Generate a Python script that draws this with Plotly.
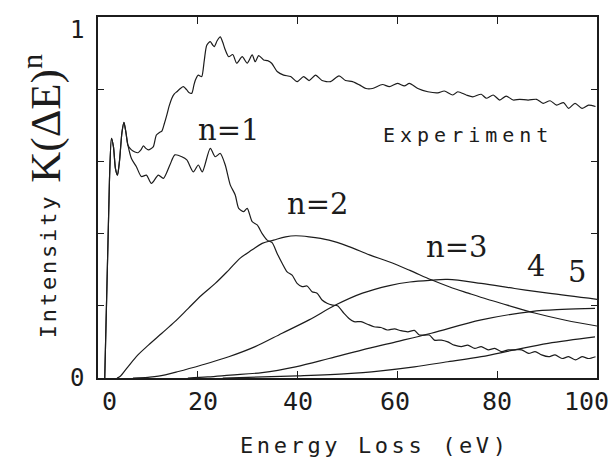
import plotly.graph_objects as go

# ---------------- data ----------------
exp_x = [1.35, 2.3, 2.7, 3.1, 3.5, 3.9, 4.3, 4.8, 5.2, 5.6, 6.0,
         6.7, 7.4, 8.0, 8.6, 9.1, 9.6, 10.1, 10.6, 11.1, 11.7, 12.3, 12.8,
         13.3, 13.8, 14.3, 14.8, 15.3, 15.8, 16.5, 17.1, 17.8, 18.3, 18.8,
         19.2, 19.5, 20.1, 20.5, 20.8, 21.3, 21.8, 22.5, 23.0, 23.3, 23.9,
         24.5, 25.0, 25.4, 26.2, 27.0, 27.8, 28.9, 29.9, 30.9, 31.5, 32.2,
         33.2, 34.0, 34.8, 35.9, 37.2, 38.6, 39.9, 41.2, 42.3, 43.6, 44.9,
         46.6, 48.3, 49.6, 51.0, 52.4, 53.7, 55.0, 57.0, 58.4, 60.0, 61.4,
         62.4, 64.1, 66.1, 68.1, 69.4, 71.1, 72.1, 73.8, 75.1, 76.8, 77.8,
         79.2, 80.5, 81.8, 83.2, 84.5, 86.2, 87.9, 89.2, 90.6, 91.9, 93.3,
         94.3, 95.6, 97.0, 98.3, 99.7]
exp_y = [0.0, 0.55, 0.664, 0.64, 0.58, 0.562, 0.60, 0.68, 0.708, 0.68, 0.645,
         0.632, 0.626, 0.624, 0.632, 0.643, 0.636, 0.632, 0.635, 0.641, 0.673, 0.680, 0.684,
         0.705, 0.729, 0.755, 0.775, 0.787, 0.793, 0.802, 0.807, 0.798, 0.790, 0.789,
         0.810, 0.825, 0.839, 0.836, 0.835, 0.880, 0.922, 0.932, 0.922, 0.918, 0.935,
         0.945, 0.930, 0.913, 0.890, 0.896, 0.872, 0.890, 0.872, 0.895, 0.876, 0.893,
         0.881, 0.879, 0.872, 0.849, 0.839, 0.835, 0.821, 0.835, 0.824, 0.839, 0.824,
         0.821, 0.837, 0.824, 0.821, 0.812, 0.802, 0.802, 0.813, 0.807, 0.816, 0.809,
         0.816, 0.802, 0.793, 0.790, 0.795, 0.784, 0.793, 0.784, 0.779, 0.786, 0.775,
         0.784, 0.770, 0.781, 0.770, 0.772, 0.770, 0.772, 0.761, 0.768, 0.756, 0.763,
         0.747, 0.761, 0.747, 0.756, 0.752]

n1_x = [1.35, 2.3, 2.7, 3.1, 3.5, 3.9, 4.3, 4.8, 5.2, 5.6, 6.0,
        6.7, 7.7, 8.7, 9.7, 10.7, 12.1, 13.1, 14.4, 15.4, 16.8, 17.8, 19.1,
        20.1, 20.9, 22.5, 23.5, 24.5, 25.5, 26.5, 27.5, 28.2, 29.2, 29.9,
        30.9, 31.9, 32.9, 33.9, 34.9, 35.9, 36.9, 37.9, 38.9, 39.9, 40.9,
        41.9, 42.9, 43.9, 44.9, 45.9, 47.0, 48.0, 49.3, 50.3, 51.3, 52.7,
        54.0, 55.3, 56.7, 58.0, 59.4, 60.7, 62.1, 63.4, 64.4, 66.4, 67.4,
        68.8, 70.1, 71.4, 72.8, 74.1, 75.5, 76.8, 78.2, 79.5, 80.9, 82.2,
        83.5, 84.9, 86.3, 87.6, 88.9, 90.3, 91.6, 93.0, 94.3, 95.7, 97.0,
        98.3, 99.7]
n1_y = [0.0, 0.55, 0.664, 0.64, 0.58, 0.562, 0.60, 0.68, 0.708, 0.68, 0.645,
        0.608, 0.585, 0.558, 0.562, 0.539, 0.562, 0.553, 0.590, 0.618, 0.613, 0.604, 0.571,
        0.590, 0.571, 0.636, 0.613, 0.622, 0.590, 0.535, 0.507, 0.470, 0.461, 0.470,
        0.433, 0.424, 0.400, 0.382, 0.375, 0.345, 0.318, 0.294, 0.285, 0.262, 0.253,
        0.255, 0.239, 0.235, 0.216, 0.207, 0.202, 0.200, 0.179, 0.165, 0.156, 0.156,
        0.149, 0.142, 0.140, 0.133, 0.136, 0.131, 0.128, 0.132, 0.119, 0.119, 0.105,
        0.105, 0.100, 0.091, 0.087, 0.091, 0.082, 0.087, 0.078, 0.082, 0.073, 0.078,
        0.078, 0.078, 0.068, 0.073, 0.064, 0.059, 0.064, 0.054, 0.059, 0.050, 0.059,
        0.054, 0.059]

n2_x = [3.8, 4.4, 6.0, 8.0, 10.1, 12.8, 15.4, 18.1, 20.8, 23.5, 26.2, 28.5,
        30.9, 32.9, 35.2, 37.6, 39.6, 42.3, 46.3, 50.3, 54.4, 58.3, 62.5,
        66.8, 70.5, 74.2, 78.0, 82.0, 87.5, 93.7, 100.0]
n2_y = [0.0, 0.004, 0.031, 0.064, 0.091, 0.124, 0.156, 0.193, 0.230, 0.262, 0.299, 0.332,
        0.355, 0.373, 0.382, 0.391, 0.394, 0.391, 0.382, 0.364, 0.341, 0.322, 0.298,
        0.272, 0.252, 0.235, 0.218, 0.202, 0.180, 0.160, 0.144]

n3_x = [7.0, 10.0, 12.1, 16.1, 20.8, 26.2, 31.5, 36.9, 42.3, 47.6, 53.0,
        58.4, 62.5, 66.8, 70.1, 76.8, 83.5, 90.2, 100.0]
n3_y = [0.0, 0.002, 0.005, 0.018, 0.036, 0.059, 0.087, 0.124, 0.161, 0.202, 0.235,
        0.256, 0.266, 0.271, 0.273, 0.262, 0.248, 0.235, 0.218]

n4_x = [18.0, 22.0, 26.5, 32.9, 39.6, 46.3, 53.0, 59.7, 66.8, 76.8, 86.8, 93.0, 99.6]
n4_y = [0.0, 0.003, 0.008, 0.015, 0.031, 0.054, 0.078, 0.100, 0.124, 0.161, 0.184, 0.190, 0.193]

n5_x = [25.0, 30.0, 40.0, 50.0, 56.7, 63.4, 70.1, 76.8, 83.5, 90.2, 99.6]
n5_y = [0.0, 0.002, 0.006, 0.012, 0.020, 0.031, 0.045, 0.059, 0.078, 0.096, 0.114]

x_tick_vals = [0, 20, 40, 60, 80, 100]
x_tick_text = ["0", "20", "40", "60", "80", "100"]
y_tick_vals = [0, 1]
y_tick_text = ["0", "1"]

# ---------------- figure ----------------
INK = "#1c1c1c"
MONO = "DejaVu Sans Mono"
SERIF = "DejaVu Serif"

fig = go.Figure()
for xs, ys, sm in [(exp_x, exp_y, 0.7), (n1_x, n1_y, 0.7), (n2_x, n2_y, 1.0),
                   (n3_x, n3_y, 1.0), (n4_x, n4_y, 1.0), (n5_x, n5_y, 1.0)]:
    fig.add_trace(go.Scatter(x=xs, y=ys, mode="lines",
                             line=dict(color=INK, width=1.2, shape="spline", smoothing=sm),
                             showlegend=False, hoverinfo="skip"))

axis_common = dict(showline=True, linecolor=INK, linewidth=1.5, mirror="ticks",
                   ticks="inside", tickcolor=INK, tickwidth=1.2,
                   showgrid=False, zeroline=False, showticklabels=False)

fig.update_layout(
    width=610, height=458,
    margin=dict(l=98, r=13, t=17, b=80),
    paper_bgcolor="white", plot_bgcolor="white",
    xaxis=dict(range=[0, 100], tickvals=x_tick_vals, ticklen=7, **axis_common),
    yaxis=dict(range=[0, 1], tickvals=[0, 0.2, 0.4, 0.6, 0.8, 1.0], ticklen=6, **axis_common),
)

C = dict(xanchor="center", yanchor="middle", showarrow=False)

# tick labels
x_shifts = [11, 5, 0, -2, 0, -11]
for v, t, s in zip(x_tick_vals, x_tick_text, x_shifts):
    fig.add_annotation(x=v, y=-0.066, xref="x", yref="paper", text=t,
                       xshift=s, font=dict(family=MONO, size=25, color=INK), **C)
y_shifts = [0, -13]
for v, t, s in zip(y_tick_vals, y_tick_text, y_shifts):
    fig.add_annotation(x=-0.042, y=v, xref="paper", yref="y", text=t,
                       yshift=s, font=dict(family=MONO, size=24, color=INK), **C)

# curve labels
labels = [("n=1", 26.1, 0.687), ("n=2", 44.0, 0.482), ("n=3", 71.8, 0.363),
          ("4", 87.7, 0.31), ("5", 95.9, 0.294)]
for t, x, y in labels:
    fig.add_annotation(x=x, y=y, xref="x", yref="y", text=t,
                       font=dict(family=SERIF, size=29, color=INK), **C)

fig.add_annotation(x=74.2, y=0.673, xref="x", yref="y",
                   text='<span style="letter-spacing:5px">Experiment</span>',
                   font=dict(family=MONO, size=20, color=INK), **C)

# axis titles
fig.add_annotation(x=0.555, y=-0.188, xref="paper", yref="paper",
                   text='<span style="letter-spacing:3.6px">Energy Loss (eV)</span>',
                   font=dict(family=MONO, size=22, color=INK), **C)
fig.add_annotation(x=-0.10, y=0.31, xref="paper", yref="paper", textangle=-90,
                   text='<span style="letter-spacing:2.8px">Intensity</span>',
                   font=dict(family=MONO, size=22, color=INK), **C)
fig.add_annotation(x=-0.113, y=0.72, xref="paper", yref="paper", textangle=-90,
                   text='K(ΔE)<sup>n</sup>',
                   font=dict(family="Liberation Serif", size=43, color=INK), **C)

fig.write_html("out.html")
